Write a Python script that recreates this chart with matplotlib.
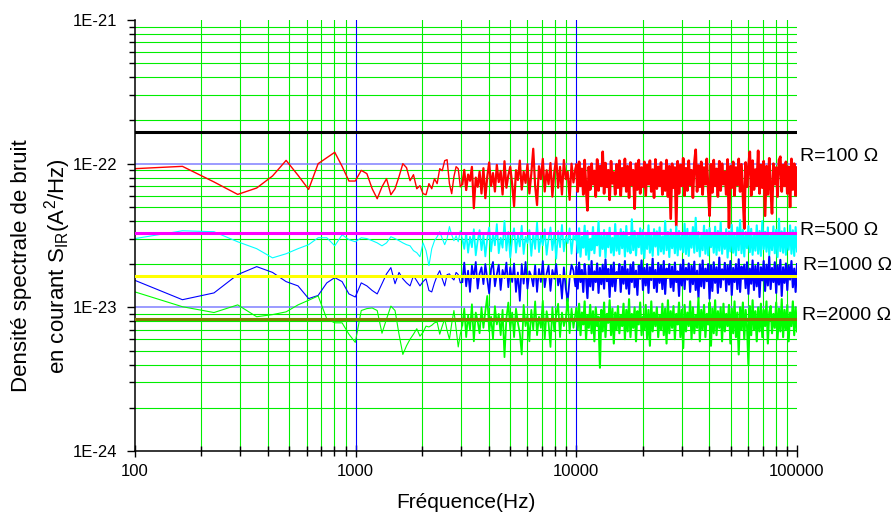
import numpy as np
import matplotlib
matplotlib.use('Agg')
import matplotlib.pyplot as plt
from matplotlib.ticker import LogLocator, FuncFormatter, NullFormatter, FixedLocator
import matplotlib.transforms as mtransforms

plt.rcParams['font.family'] = ['Liberation Sans', 'DejaVu Sans']
plt.rcParams['mathtext.fontset'] = 'custom'
plt.rcParams['mathtext.rm'] = 'Liberation Sans'
plt.rcParams['mathtext.it'] = 'Liberation Sans:italic'
plt.rcParams['mathtext.bf'] = 'Liberation Sans:bold'

# ---------------- data (values in units of 1e-25 A^2/Hz) ----------------
UNIT = 1e-25
freq_low = np.arange(100, 3000, 64)          # FFT bins 100 ... 2980 Hz

red_low = [923, 958, 746, 611, 677, 821, 1054, 830, 662, 1000, 1100, 1200, 958, 757, 757, 898,
           852, 669, 570, 690, 786, 608, 669, 812, 1000, 938, 761, 838, 669, 703, 618, 608,
           726, 669, 786, 726, 923, 894, 1049, 1066, 726, 618, 812, 953, 923, 690]
red_mid = [720, 905, 655, 840, 760, 950, 490, 800, 690, 880,
           620, 930, 575, 810, 1020, 700, 860, 640, 980, 745,
           890, 610, 1040, 680, 830, 950, 720, 505, 900, 770,
           1050, 660, 880, 735, 990, 620, 850, 1270, 700, 515,
           960, 780, 1080, 640, 900, 720, 1010, 590, 870, 1100,
           680, 950, 610, 1060, 780, 880, 560, 1000, 740, 920]
red_high = [980, 640, 1030, 700, 920, 610, 1060, 680, 473, 950,
            660, 1000, 720, 890, 590, 1070, 650, 960, 700, 1210,
            620, 1010, 690, 900, 560, 1040, 730, 870, 610, 990,
            680, 1050, 600, 930, 700, 1080, 640, 960, 580, 1020,
            710, 900, 486, 1000, 660, 1060, 620, 940, 690, 1030,
            600, 980, 720, 1050, 640, 910, 580, 1070, 670, 950,
            700, 1020, 610, 890, 650, 1060, 590, 960, 414, 1000,
            680, 940, 370, 1040, 620, 980, 700, 1090, 600, 930,
            650, 1050, 710, 900, 580, 1000, 1250, 640, 970, 690,
            1030, 610, 940, 720, 1080, 660, 434, 990, 630, 1060,
            700, 920, 590, 1040, 650, 1000, 720, 880, 610, 1070,
            358, 960, 680, 1030, 600, 940, 710, 1080, 640, 990,
            620, 353, 1020, 690, 950, 1210, 600, 1050, 660, 910,
            700, 1230, 620, 980, 680, 1040, 434, 960, 610, 1090,
            670, 450, 1000, 720, 940, 590, 1060, 1118, 640, 980,
            700, 1030, 620, 950, 500, 1080, 660, 1000, 600, 940]

cyan_low = [301, 341, 336, 286, 256, 221, 236, 256, 273, 305, 305, 268, 320, 296, 286, 305,
            301, 291, 281, 268, 281, 310, 301, 291, 281, 273, 268, 248, 240, 225, 281, 248,
            195, 256, 291, 310, 336, 301, 273, 301, 365, 320, 291, 315, 286, 341]
cyan_mid = [300, 255, 330, 240, 310, 262, 350, 230, 290, 345,
            250, 318, 226, 300, 360, 245, 325, 270, 380, 238,
            305, 260, 400, 248, 335, 222, 300, 355, 240, 320,
            265, 370, 235, 310, 280, 345, 228, 330, 255, 390,
            242, 315, 270, 350, 232, 300, 360, 250, 325, 218,
            340, 262, 375, 245, 310, 280, 355, 236, 320, 295]
cyan_high = [330, 240, 355, 225, 310, 260, 370, 232, 340, 215,
             300, 250, 362, 238, 325, 270, 395, 228, 315, 255,
             345, 222, 330, 262, 358, 240, 305, 230, 380, 248,
             320, 235, 350, 258, 335, 226, 368, 245, 310, 238,
             410, 250, 340, 230, 322, 262, 355, 236, 345, 220,
             330, 255, 372, 240, 318, 228, 350, 265, 338, 232,
             360, 245, 312, 236, 398, 250, 335, 224, 348, 258,
             325, 238, 365, 230, 340, 252, 316, 242, 382, 235,
             352, 228, 330, 260, 362, 240, 420, 246, 334, 226,
             318, 250, 370, 236, 345, 230, 356, 262, 328, 240,
             364, 232, 340, 248, 390, 236, 326, 255, 350, 222,
             338, 245, 375, 240, 320, 230, 360, 250, 405, 238,
             346, 226, 334, 258, 368, 242, 352, 232, 318, 248,
             372, 236, 340, 228, 398, 254, 336, 244, 360, 230,
             324, 250, 366, 238, 346, 224, 414, 246, 338, 240,
             356, 232, 330, 252, 372, 236, 344, 228, 362, 245]

blue_low = [154, 113, 126, 169, 192, 175, 151, 141, 115, 121, 148, 161, 151, 124, 118, 148,
            141, 131, 124, 146, 171, 189, 146, 175, 158, 148, 141, 166, 153, 141, 151, 158,
            131, 128, 148, 166, 180, 158, 141, 169, 171, 161, 155, 175, 169, 148]
blue_mid = [150, 205, 140, 180, 128, 195, 160, 207, 135, 172,
            190, 145, 200, 158, 125, 185, 207, 140, 170, 198,
            132, 182, 160, 205, 138, 190, 150, 202, 128, 175,
            111, 200, 146, 207, 135, 178, 165, 140, 196, 128,
            185, 150, 210, 138, 172, 195, 130, 182, 158, 200,
            142, 168, 115, 190, 135, 110, 160, 198, 180, 140]
blue_high = [190, 135, 205, 150, 182, 128, 200, 160, 116, 195,
             140, 210, 132, 178, 150, 202, 126, 188, 145, 198,
             135, 215, 152, 185, 118, 196, 140, 205, 130, 176,
             160, 200, 128, 192, 146, 210, 135, 184, 124, 198,
             150, 206, 138, 180, 122, 195, 158, 212, 132, 188,
             142, 200, 126, 190, 155, 218, 136, 182, 128, 204,
             148, 196, 134, 210, 124, 186, 160, 200, 138, 192,
             130, 205, 150, 178, 120, 198, 142, 214, 134, 188,
             156, 202, 128, 194, 145, 208, 132, 180, 117, 199,
             140, 212, 136, 186, 152, 200, 115, 196, 130, 206,
             148, 190, 126, 222, 138, 184, 156, 204, 130, 196,
             144, 210, 122, 188, 150, 200, 134, 216, 128, 192,
             158, 198, 136, 206, 124, 186, 146, 212, 132, 194,
             140, 204, 118, 190, 154, 210, 130, 198, 142, 225,
             134, 188, 150, 206, 126, 196, 144, 214, 120, 190,
             148, 202, 132, 196, 156, 210, 138, 186, 128, 200]

green_low = [128, 101, 92, 104, 86, 89, 93, 104, 112, 120, 83, 78, 78, 65, 57, 95,
             98, 99, 95, 66, 83, 102, 95, 65, 47, 54, 60, 65, 71, 63, 67, 74,
             73, 75, 78, 79, 65, 74, 83, 69, 60, 77, 95, 71, 53, 65]
green_mid = [75, 98, 62, 88, 70, 105, 58, 92, 80, 66,
             100, 72, 94, 120, 68, 86, 60, 102, 76, 90,
             64, 96, 45, 84, 108, 70, 92, 62, 98, 78,
             66, 47, 104, 74, 88, 58, 96, 70, 110, 64,
             86, 72, 111, 60, 94, 78, 53, 100, 68, 88,
             106, 62, 92, 74, 84, 115, 66, 98, 72, 90]
green_high = [98, 70, 106, 64, 92, 76, 110, 60, 88, 72,
              104, 66, 94, 58, 100, 74, 86, 38, 96, 68,
              108, 62, 90, 78, 112, 64, 98, 56, 92, 70,
              102, 66, 88, 74, 106, 60, 96, 68, 114, 62,
              90, 72, 100, 58, 94, 76, 108, 64, 86, 70,
              104, 60, 96, 54, 110, 68, 92, 74, 100, 62,
              88, 70, 106, 64, 98, 56, 112, 66, 94, 72,
              102, 60, 90, 76, 108, 62, 96, 52, 104, 68,
              92, 74, 110, 60, 100, 66, 88, 72, 116, 58,
              96, 70, 104, 62, 90, 76, 108, 54, 98, 66,
              112, 64, 94, 72, 100, 58, 106, 68, 90, 74,
              104, 56, 98, 66, 110, 62, 92, 47, 100, 70,
              108, 60, 96, 74, 40, 102, 64, 112, 70, 94,
              58, 100, 68, 106, 62, 96, 74, 110, 56, 92,
              102, 66, 90, 72, 108, 60, 98, 68, 114, 62,
              96, 70, 104, 58, 92, 74, 110, 64, 100, 68]

# thermal-noise reference levels 4kT/R
ref_levels = [1.656e-22, 3.31e-23, 1.656e-23, 8.28e-24]
ref_colors = ['#000000', '#ff00ff', '#ffff00', '#808000']
res_labels = ['R=100 \u03a9', 'R=500 \u03a9', 'R=1000 \u03a9', 'R=2000 \u03a9']
label_y = [1.12e-22, 3.41e-23, 1.95e-23, 8.75e-24]
label_x = [1.004, 1.004, 1.009, 1.008]

x_ticks = [100, 1000, 10000, 100000]
y_ticks = [1e-24, 1e-23, 1e-22, 1e-21]


def segments(low, mid, high):
    f_low = freq_low
    f_mid = np.geomspace(3044, 9900, len(mid))
    f_high = np.geomspace(10000, 100000, len(high))
    v_low = np.array(low, dtype=float) * UNIT
    v_mid = np.array(mid, dtype=float) * UNIT
    v_high = np.array(high, dtype=float) * UNIT
    # join segments so the trace is continuous
    seg1 = (np.concatenate([f_low, f_mid[:1]]), np.concatenate([v_low, v_mid[:1]]))
    seg2 = (np.concatenate([f_mid, f_high[:1]]), np.concatenate([v_mid, v_high[:1]]))
    seg3 = (f_high, v_high)
    return seg1, seg2, seg3


# ---------------- figure ----------------
fig = plt.figure(figsize=(8.91, 5.18), dpi=100)
ax = fig.add_axes([135 / 891, 1 - 451 / 518, 662 / 891, 431 / 518])
ax.set_xscale('log')
ax.set_yscale('log')
ax.set_xlim(100, 100000)
ax.set_ylim(1e-24, 1e-21)

ax.xaxis.set_major_locator(FixedLocator(x_ticks))
ax.yaxis.set_major_locator(FixedLocator(y_ticks))
ax.xaxis.set_minor_locator(LogLocator(base=10, subs=np.arange(2, 10), numticks=20))
ax.yaxis.set_minor_locator(LogLocator(base=10, subs=np.arange(2, 10), numticks=20))
ax.xaxis.set_major_formatter(FuncFormatter(lambda v, p: f"{int(round(v))}"))
ax.yaxis.set_major_formatter(FuncFormatter(lambda v, p: f"1E{int(round(np.log10(v)))}"))
ax.xaxis.set_minor_formatter(NullFormatter())
ax.yaxis.set_minor_formatter(NullFormatter())

# grid
ax.grid(True, which='minor', axis='both', color='#00ee00', lw=0.8, zorder=0.5)
for xv in x_ticks[1:-1]:
    ax.axvline(xv, color='#0000ff', lw=0.8, zorder=0.6)
for yv in y_ticks[1:-1]:
    ax.axhline(yv, color='#8080ff', lw=1.1, zorder=0.6)
ax.set_axisbelow(True)

# spectra
for (lo, mi, hi), col, lw in [((red_low, red_mid, red_high), '#ff0000', 1.0),
                               ((cyan_low, cyan_mid, cyan_high), '#00ffff', 0.8),
                               ((blue_low, blue_mid, blue_high), '#0000ff', 0.8),
                               ((green_low, green_mid, green_high), '#00ff00', 0.8)]:
    s1, s2, s3 = segments(lo, mi, hi)
    ax.plot(*s1, color=col, lw=lw, zorder=2)
    ax.plot(*s2, color=col, lw=lw * 1.6, zorder=2)
    ax.plot(*s3, color=col, lw=lw * 1.9, zorder=2)

# reference lines
for lev, col in zip(ref_levels, ref_colors):
    ax.axhline(lev, color=col, lw=2.2, zorder=4)

# labels at right
trans = mtransforms.blended_transform_factory(ax.transAxes, ax.transData)
for txt, xx, yy in zip(res_labels, label_x, label_y):
    ax.text(xx, yy, txt, transform=trans, ha='left', va='center', fontsize=14,
            clip_on=False)

# spines & ticks
for s in ['top', 'right']:
    ax.spines[s].set_visible(False)
for s in ['left', 'bottom']:
    ax.spines[s].set_linewidth(1.1)
ax.tick_params(axis='y', which='major', direction='out', length=6, width=1,
               labelsize=12, pad=7)
ax.tick_params(axis='y', which='minor', direction='out', length=4, width=1)
ax.tick_params(axis='x', which='major', direction='inout', length=9, width=1,
               labelsize=12, pad=5)
ax.tick_params(axis='x', which='minor', direction='inout', length=7, width=1)

fig.text(466 / 891, 1 - 503 / 518, 'Fréquence(Hz)', ha='center', va='center', fontsize=15)
fig.text(22 / 891, 1 - 266 / 518, 'Densité spectrale de bruit', rotation=90,
         ha='center', va='center', fontsize=16)
fig.text(58 / 891, 1 - 266 / 518, r'en courant S$_{\mathrm{IR}}$(A$^{2}$/Hz)', rotation=90,
         ha='center', va='center', fontsize=16)

fig.savefig('out.png', dpi=100)
